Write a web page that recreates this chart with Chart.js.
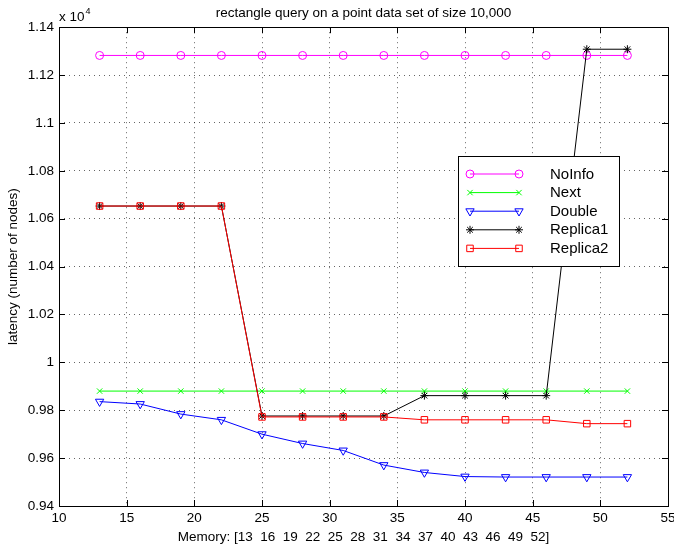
<!DOCTYPE html>
<html>
<head>
<meta charset="utf-8">
<title>rectangle query latency</title>
<script src="https://cdn.jsdelivr.net/npm/chart.js@4.4.1/dist/chart.umd.min.js"></script>
<style>
  html, body { margin: 0; padding: 0; background: #fff; }
  canvas { display: block; }
</style>
</head>
<body>
<canvas id="myChart" width="674" height="550"></canvas>
<script>
// memory sizes on the x axis
const memory = [13, 16, 19, 22, 25, 28, 31, 34, 37, 40, 43, 46, 49, 52]

// latency (number of nodes)
const noInfo   = [11282, 11282, 11282, 11282, 11282, 11282, 11282, 11282, 11282, 11282, 11282, 11282, 11282, 11282]
const next     = [9880, 9880, 9880, 9880, 9880, 9880, 9880, 9880, 9880, 9880, 9880, 9880, 9880, 9880]
const double   = [9836, 9826, 9784, 9760, 9700, 9661, 9632, 9571, 9540, 9523, 9521, 9521, 9521, 9521]
const replica1 = [10653, 10653, 10653, 10653, 9776, 9776, 9776, 9776, 9861, 9861, 9861, 9861, 11308, 11308]
const replica2 = [10653, 10653, 10653, 10653, 9772, 9772, 9772, 9772, 9760, 9760, 9760, 9760, 9744, 9744]

const seriesNames = ['NoInfo', 'Next', 'Double', 'Replica1', 'Replica2']

const chartTitle = 'rectangle query on a point data set of size 10,000'
const xTitle = 'Memory: [' + memory.join('  ') + ']'
const yTitle = 'latency (number of nodes)'

const FONT = "'Liberation Sans', Arial, Helvetica, sans-serif"

Chart.defaults.font.family = FONT
Chart.defaults.font.size = 13.5
Chart.defaults.color = '#000'

function points(values) {
    return memory.map((m, i) => ({x: m, y: values[i]}))
}

function makeSet(label, values, color, style, radius, rotation, order) {
    return {
        label: label,
        data: points(values),
        borderColor: color,
        borderWidth: 1,
        pointStyle: style,
        pointRadius: radius,
        pointRotation: rotation,
        pointBorderColor: color,
        pointBackgroundColor: 'rgba(0,0,0,0)',
        pointBorderWidth: 1,
        tension: 0,
        fill: false,
        order: order
    }
}

// matlab style box with inward tick marks
const axesBox = {
    id: 'axesBox',
    beforeDatasetsDraw(chart) {
        const {ctx, chartArea: a, scales} = chart
        const tl = 6
        ctx.save()
        ctx.strokeStyle = '#000'
        ctx.lineWidth = 1
        ctx.setLineDash([])
        ctx.beginPath()
        scales.x.ticks.forEach(t => {
            const px = Math.round(scales.x.getPixelForValue(t.value)) + 0.5
            ctx.moveTo(px, a.bottom); ctx.lineTo(px, a.bottom - tl)
            ctx.moveTo(px, a.top); ctx.lineTo(px, a.top + tl)
        })
        scales.y.ticks.forEach(t => {
            const py = Math.round(scales.y.getPixelForValue(t.value)) + 0.5
            ctx.moveTo(a.left, py); ctx.lineTo(a.left + tl, py)
            ctx.moveTo(a.right, py); ctx.lineTo(a.right - tl, py)
        })
        ctx.stroke()
        ctx.strokeRect(Math.round(a.left) + 0.5, Math.round(a.top) + 0.5,
            Math.round(a.right - a.left), Math.round(a.bottom - a.top))
        ctx.restore()
    },
    afterDraw(chart) {
        // exponent label over the y axis
        const {ctx, chartArea: a} = chart
        ctx.save()
        ctx.fillStyle = '#000'
        ctx.textBaseline = 'alphabetic'
        ctx.font = '13.5px ' + FONT
        ctx.fillText('x 10', a.left, a.top - 6)
        const w = ctx.measureText('x 10').width
        ctx.font = '9px ' + FONT
        ctx.fillText('4', a.left + w + 1, a.top - 13)
        ctx.restore()
    }
}

// legend box inside the plot, like the matlab one
const legendBox = {
    id: 'legendBox',
    afterDatasetsDraw(chart) {
        const ctx = chart.ctx
        const box = {x: 458, y: 156, w: 161, h: 110}
        ctx.save()
        ctx.fillStyle = '#fff'
        ctx.fillRect(box.x, box.y, box.w, box.h)
        ctx.strokeStyle = '#000'
        ctx.lineWidth = 1
        ctx.strokeRect(box.x + 0.5, box.y + 0.5, box.w, box.h)
        chart.data.datasets.forEach((ds, i) => {
            const y = 174 + i * 18.6
            ctx.strokeStyle = ds.borderColor
            ctx.lineWidth = 1
            ctx.beginPath()
            ctx.moveTo(470, y)
            ctx.lineTo(519, y)
            ctx.stroke()
            ctx.fillStyle = 'rgba(0,0,0,0)'
            const opts = {pointStyle: ds.pointStyle, rotation: ds.pointRotation, radius: ds.pointRadius, borderWidth: 1}
            Chart.helpers.drawPoint(ctx, opts, 470, y)
            Chart.helpers.drawPoint(ctx, opts, 519, y)
            ctx.fillStyle = '#000'
            ctx.font = '15px ' + FONT
            ctx.textBaseline = 'middle'
            ctx.textAlign = 'left'
            ctx.fillText(ds.label, 550, y + 0.5)
        })
        ctx.restore()
    }
}

const ctx = document.getElementById('myChart').getContext('2d')

const config = {
    type: 'line',
    data: {
        datasets: [
            makeSet(seriesNames[0], noInfo, '#ff00ff', 'circle', 4, 0, 4),
            makeSet(seriesNames[1], next, '#00ff00', 'crossRot', 3.8, 0, 3),
            makeSet(seriesNames[2], double, '#0000ff', 'triangle', 4.8, 180, 2),
            makeSet(seriesNames[3], replica1, '#000000', 'star', 4, 0, 1),
            makeSet(seriesNames[4], replica2, '#ff0000', 'rect', 4.6, 0, 0)
        ]
    },
    options: {
        responsive: false,
        animation: false,
        devicePixelRatio: 1,
        layout: {padding: {left: 0, right: 6, top: 0, bottom: 0}},
        plugins: {
            legend: {display: false},
            tooltip: {enabled: false},
            title: {
                display: true,
                text: chartTitle,
                fullSize: false,
                color: '#000',
                font: {size: 13.5, weight: 'normal', family: FONT},
                padding: {top: 5, bottom: 6}
            }
        },
        scales: {
            x: {
                type: 'linear',
                min: 10,
                max: 55,
                ticks: {stepSize: 5, padding: 4, maxRotation: 0, color: '#000'},
                grid: {color: 'rgba(0,0,0,0.6)', drawTicks: false, lineWidth: 1},
                border: {display: false, dash: [1, 4]},
                title: {display: true, text: xTitle, color: '#000', padding: {top: 0, bottom: 4.5}, font: {size: 13.5}},
                afterFit(scale) {
                    scale.height = 44
                    scale.paddingLeft = 0
                    scale.paddingRight = 0
                }
            },
            y: {
                type: 'linear',
                min: 9400,
                max: 11400,
                ticks: {
                    stepSize: 200,
                    padding: 5,
                    color: '#000',
                    callback: v => String(parseFloat((v / 10000).toFixed(2)))
                },
                grid: {color: 'rgba(0,0,0,0.6)', drawTicks: false, lineWidth: 1},
                border: {display: false, dash: [1, 4]},
                title: {display: true, text: yTitle, color: '#000', padding: {top: 5, bottom: 0}, font: {size: 13.5}},
                afterFit(scale) {
                    scale.width = 59
                }
            }
        }
    },
    plugins: [axesBox, legendBox]
}

const myChart = new Chart(ctx, config)
</script>
</body>
</html>
